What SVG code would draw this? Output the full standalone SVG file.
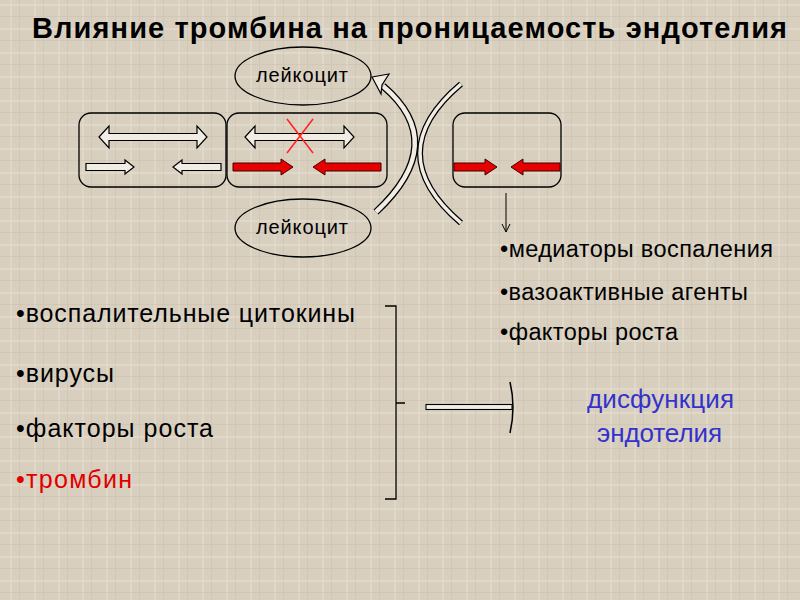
<svg xmlns="http://www.w3.org/2000/svg" width="800" height="600" viewBox="0 0 800 600">
<style>
text{font-family:"Liberation Sans",Arial,sans-serif;}
.title{font-size:29px;font-weight:bold;fill:#000;}
.lbl{font-size:20px;fill:#000;}
.li{font-size:25px;fill:#000;}
.ri{font-size:23.5px;fill:#000;}
.blue{font-size:26px;fill:#3333cc;}
.box{fill:none;stroke:#000;stroke-width:1.3;}
.cell{fill:none;stroke:#000;stroke-width:1.3;}
.hol{fill:#f1ede4;stroke:#000;stroke-width:1.2;}
.red{fill:#e60000;stroke:#400;stroke-width:1;}
</style>
<defs>
<pattern id="tex" width="24" height="24" patternUnits="userSpaceOnUse">
<rect width="24" height="24" fill="#d8cfbf"/>
<rect x="0" y="4" width="24" height="2" fill="#e6dfd2" opacity="0.6"/>
<rect x="10" y="0" width="2" height="24" fill="#e6dfd2" opacity="0.5"/>
<rect x="0" y="16" width="24" height="1" fill="#c9bfae" opacity="0.5"/>
<rect x="19" y="0" width="1" height="24" fill="#c9bfae" opacity="0.5"/>
</pattern>
<marker id="ah" markerWidth="10" markerHeight="10" refX="9" refY="5" orient="auto" markerUnits="userSpaceOnUse">
<path d="M1,1 L9,5 L1,9" fill="none" stroke="#000" stroke-width="1"/>
</marker>
</defs>
<rect width="800" height="600" fill="url(#tex)"/>
<text class="title" x="32" y="38" textLength="755" lengthAdjust="spacing">Влияние тромбина на проницаемость эндотелия</text>

<g id="cell1">
<rect class="cell" x="79" y="113" width="147" height="74" rx="12"/>
<path class="hol" d="M99,137 L109,126 L109,133.5 L197,133.5 L197,126 L207,137 L197,148 L197,140.5 L109,140.5 L109,148 Z"/>
<path class="hol" d="M86,163.5 L125,163.5 L125,160 L134,167 L125,174 L125,170.5 L86,170.5 Z"/>
<path class="hol" d="M221,163.5 L182,163.5 L182,160 L173,167 L182,174 L182,170.5 L221,170.5 Z"/>
</g>
<g id="cell2">
<rect class="cell" x="227" y="113" width="160" height="74" rx="12"/>
<path class="hol" d="M245,137 L255,126 L255,133.5 L344,133.5 L344,126 L354,137 L344,148 L344,140.5 L255,140.5 L255,148 Z"/>
<path d="M287,119 L313,153 M313,119 L287,153" stroke="#ff2020" stroke-width="1.5" fill="none"/>
<path class="red" d="M233,163 L281,163 L281,159 L293,167 L281,175 L281,171 L233,171 Z"/>
<path class="red" d="M381,163 L325,163 L325,159 L313,167 L325,175 L325,171 L381,171 Z"/>
</g>
<g id="cell3">
<rect class="cell" x="453" y="113" width="108" height="74" rx="12"/>
<path class="red" d="M454,163 L485,163 L485,159 L497,167 L485,175 L485,171 L454,171 Z"/>
<path class="red" d="M560,163 L523,163 L523,159 L511,167 L523,175 L523,171 L560,171 Z"/>
</g>
<g id="leuk1">
<ellipse class="box" cx="303" cy="76" rx="68" ry="29"/>
<text class="lbl" x="256" y="82" textLength="92" lengthAdjust="spacing">лейкоцит</text>
</g>
<g id="leuk2">
<ellipse class="box" cx="303" cy="228" rx="68" ry="29"/>
<text class="lbl" x="256" y="234" textLength="92" lengthAdjust="spacing">лейкоцит</text>
</g>

<g id="connectors">
<path d="M376,212 Q450,143 383,86" fill="none" stroke="#000" stroke-width="7"/>
<path d="M376,212 Q450,143 383,86" fill="none" stroke="#f1ede4" stroke-width="4.5"/>
<path class="hol" d="M372,77 L389,74 L382,85 L381,94 Z"/>
<path d="M461,84 Q379,153 461,223" fill="none" stroke="#000" stroke-width="6"/>
<path d="M461,84 Q379,153 461,223" fill="none" stroke="#f1ede4" stroke-width="3.5"/>
<line x1="506" y1="193" x2="506" y2="232" stroke="#000" stroke-width="1" marker-end="url(#ah)"/>
<path d="M385,306 L396,306 L396,499 L385,499 M396,403 L405,403" fill="none" stroke="#000" stroke-width="1.3"/>
<rect x="426" y="404.5" width="86" height="5" fill="#f1ede4" stroke="#000" stroke-width="1.1"/>
<path d="M510,382 Q516,407 510,433" fill="none" stroke="#000" stroke-width="1.5"/>
</g>

<g id="right-list">
<text class="ri" x="500" y="257" textLength="273" lengthAdjust="spacing">•медиаторы воспаления</text>
<text class="ri" x="500" y="300" textLength="248" lengthAdjust="spacing">•вазоактивные агенты</text>
<text class="ri" x="500" y="340" textLength="178" lengthAdjust="spacing">•факторы роста</text>
</g>
<g id="left-list">
<text class="li" x="16" y="322" textLength="339" lengthAdjust="spacing">•воспалительные цитокины</text>
<text class="li" x="16" y="382" textLength="98" lengthAdjust="spacing">•вирусы</text>
<text class="li" x="16" y="437" textLength="197" lengthAdjust="spacing">•факторы роста</text>
<text class="li" x="16" y="488" style="fill:#e00000" textLength="116" lengthAdjust="spacing">•тромбин</text>
</g>
<g id="result">
<text class="blue" x="587" y="408" textLength="147" lengthAdjust="spacing">дисфункция</text>
<text class="blue" x="597" y="442" textLength="125" lengthAdjust="spacing">эндотелия</text>
</g>
</svg>
